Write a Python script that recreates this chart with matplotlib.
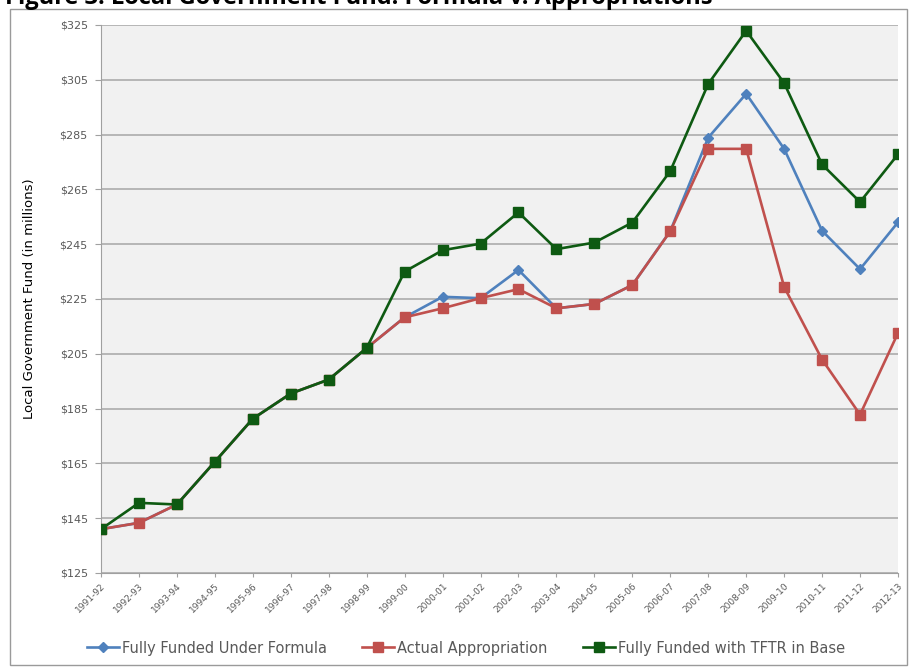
# Figure 3: Local Government Fund - formula vs appropriations

import matplotlib
matplotlib.use('Agg')
import matplotlib.pyplot as plt
from matplotlib.patches import Rectangle

years = ['1991-92', '1992-93', '1993-94', '1994-95', '1995-96', '1996-97',
         '1997-98', '1998-99', '1999-00', '2000-01', '2001-02', '2002-03',
         '2003-04', '2004-05', '2005-06', '2006-07', '2007-08', '2008-09',
         '2009-10', '2010-11', '2011-12', '2012-13']

# values in millions of dollars
formula = [141, 143.3, 150, 165.6, 181.3, 190.5, 195.6, 207.1, 218.3, 225.8, 225.3,
           235.6, 221.6, 223.2, 230.1, 249.8, 283.9, 299.9, 279.8, 249.9, 235.9, 253]
actual = [141, 143.3, 150, 165.6, 181.3, 190.5, 195.6, 207.1, 218.3, 221.6, 225.3,
          228.6, 221.6, 223.2, 230.1, 249.7, 279.8, 279.8, 229.4, 202.9, 182.8, 212.6]
tftr = [141, 150.6, 150, 165.6, 181.3, 190.5, 195.6, 207.1, 235, 242.8, 245.2,
        256.6, 243.2, 245.6, 252.9, 271.7, 303.5, 322.9, 303.8, 274.1, 260.4, 277.8]

yticks = list(range(125, 326, 20))

fig = plt.figure(figsize=(9.12, 6.69), dpi=100)
ax = fig.add_axes([101/912, 96/669, 797/912, 548/669])

x = range(len(years))
ax.plot(x, formula, color='#4F81BD', lw=1.9, marker='D', ms=5,
        label='Fully Funded Under Formula', zorder=3)
ax.plot(x, actual, color='#C0504D', lw=1.9, marker='s', ms=6.5,
        label='Actual Appropriation', zorder=4)
ax.plot(x, tftr, color='#0E5A12', lw=1.9, marker='s', ms=7.5,
        label='Fully Funded with TFTR in Base', zorder=5)

ax.set_facecolor('#F1F1F1')
ax.set_xlim(0, len(years) - 1)
ax.set_ylim(125, 325)
ax.set_yticks(yticks)
ax.set_yticklabels(['$%d' % v for v in yticks], fontsize=8, color='#595959')
ax.set_xticks(list(x))
ax.set_xticklabels(years, rotation=45, ha='right', rotation_mode='anchor',
                   fontsize=6.5, color='#595959')
ax.tick_params(axis='y', length=4.5, color='#A0A0A0', pad=5)
ax.tick_params(axis='x', length=3, color='#A0A0A0', pad=3)
ax.grid(axis='y', color='#A6A6A6', lw=1.1)
ax.set_axisbelow(True)
for s in ['top', 'right']:
    ax.spines[s].set_visible(False)
ax.spines['left'].set_color('#A0A0A0')
ax.spines['bottom'].set_color('#A0A0A0')

ax.set_ylabel('Local Government Fund (in millions)', fontsize=9.5)
ax.yaxis.set_label_coords(-0.082, 0.5)

fig.legend(loc='center', bbox_to_anchor=(466/912, 1 - 648/669), ncol=3,
           frameon=False, fontsize=10.5, handlelength=2.2, handletextpad=0.2,
           columnspacing=2.4, labelcolor='#595959')

# outer chart frame
fig.patches.append(Rectangle((10/912, 4/669), 897/912, 656/669, transform=fig.transFigure,
                             fill=False, edgecolor='#9A9A9A', lw=1))

# title sits above the crop, only its lower part shows
fig.text(5/912, 1 - 4/669, 'Figure 3: Local Government Fund: Formula v. Appropriations',
         fontsize=17, fontweight='bold', family='Open Sans', va='baseline')

plt.savefig('out.png', dpi=100)
